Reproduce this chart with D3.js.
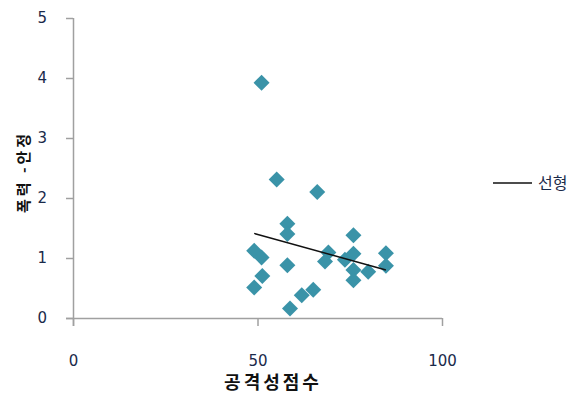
<!DOCTYPE html>
<html><head><meta charset="utf-8">
<script src="https://cdn.jsdelivr.net/npm/d3@7"></script>
<style>body{margin:0;background:#fff}svg{display:block}</style>
</head><body>
<svg id="c" width="582" height="396"></svg>
<script>
const xScore = [51.1,55.2,66.2,58.1,58.1,76.0,49.1,51.1,58.1,69.2,68.3,73.7,76.0,76.0,76.0,80.0,84.8,84.8,51.3,49.1,62.0,65.1,58.8];
const yViolence = [3.92,2.31,2.10,1.57,1.40,1.38,1.12,1.01,0.88,1.09,0.94,0.97,1.07,0.80,0.63,0.77,1.08,0.87,0.70,0.51,0.38,0.47,0.16];
const trendX = [49.1, 84.8];
const trendY = [1.41, 0.80];
const xTicks = [0, 50, 100];
const yTicks = [0, 1, 2, 3, 4, 5];
const xTitle = "공격성점수";
const yTitle = "폭력 -안정";
const legendLabel = "선형";

const svg = d3.select("#c");
const x = d3.scaleLinear().domain([0,100]).range([73,442]);
const y = d3.scaleLinear().domain([0,5]).range([318,18]);
const axisColor = "#a0a0a0";
const tickFont = "'DejaVu Sans', Verdana, sans-serif";

const gx = svg.append("g").attr("transform","translate(0,318)")
  .call(d3.axisBottom(x).tickValues(xTicks).tickFormat(d3.format("d")).tickSize(8).tickPadding(29).tickSizeOuter(0));
gx.select(".domain").attr("stroke",axisColor).attr("stroke-width",1.5).attr("d","M66,0.5H442");
gx.selectAll(".tick line").attr("stroke",axisColor).attr("stroke-width",1.5);
gx.selectAll(".tick text").attr("fill","#1a2a4a").style("font-family",tickFont).style("font-size","15px");

const gy = svg.append("g").attr("transform","translate(73,0)")
  .call(d3.axisLeft(y).tickValues(yTicks).tickFormat(d3.format("d")).tickSize(7).tickPadding(19).tickSizeOuter(0));
gy.select(".domain").attr("stroke",axisColor).attr("stroke-width",1.5).attr("d","M0.5,18V326");
gy.selectAll(".tick line").attr("stroke",axisColor).attr("stroke-width",1.5);
gy.selectAll(".tick text").attr("fill","#1a2a4a").style("font-family",tickFont).style("font-size","15px");

const pts = xScore.map((v,i)=>({x:v,y:yViolence[i]}));
svg.append("g").selectAll("path").data(pts).join("path")
  .attr("transform",d=>`translate(${x(d.x)},${y(d.y)})`)
  .attr("d","M0,-8L8,0L0,8L-8,0Z")
  .attr("fill","#3a93a8");

const line = d3.line().x(d=>x(d[0])).y(d=>y(d[1]));
svg.append("path").datum(trendX.map((v,i)=>[v,trendY[i]]))
  .attr("d",line).attr("stroke","#111").attr("stroke-width",1.5).attr("fill","none");

svg.append("text").attr("x",273).attr("y",389).attr("text-anchor","middle")
  .style("font-family","'Noto Sans CJK KR', sans-serif").style("font-weight","bold")
  .style("font-size","18px").style("letter-spacing","3px").attr("fill","#111").text(xTitle);

svg.append("text").attr("transform","translate(29,172) rotate(-90)").attr("text-anchor","middle")
  .style("font-family","'Noto Sans CJK KR', sans-serif").style("font-weight","bold")
  .style("font-size","15px").style("letter-spacing","3px").attr("fill","#111").text(yTitle);

svg.append("line").attr("x1",493).attr("x2",532).attr("y1",183).attr("y2",183)
  .attr("stroke","#111").attr("stroke-width",1.5);
svg.append("text").attr("x",538).attr("y",189)
  .style("font-family","'Noto Sans CJK KR', sans-serif").style("font-size","16px")
  .attr("fill","#1a2a4a").text(legendLabel);
</script>
</body></html>
